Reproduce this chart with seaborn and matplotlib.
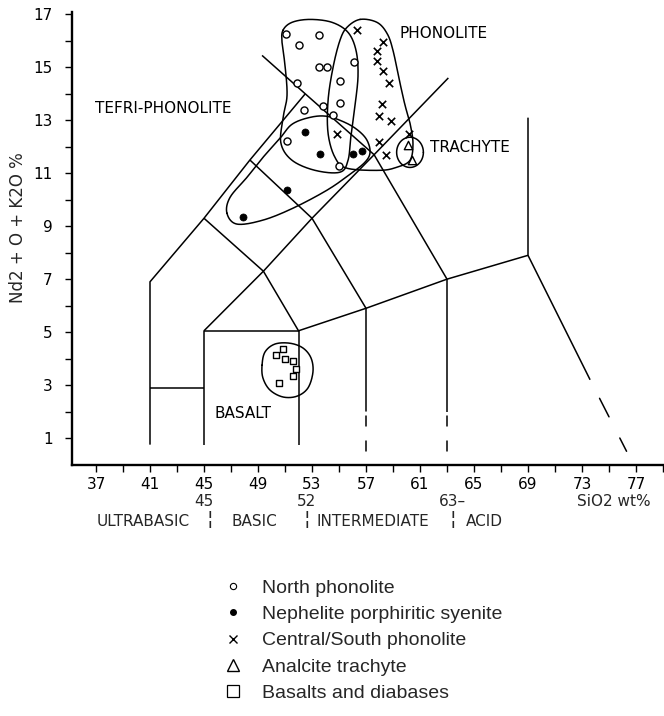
import numpy as np
import pandas as pd
import matplotlib
matplotlib.use("Agg")
import matplotlib.pyplot as plt
from matplotlib.lines import Line2D
import seaborn as sns

sns.set_theme(style="white")
plt.rcParams["font.family"] = ["DejaVu Sans"]

# ---- sample compositions (SiO2 wt%, Na2O + K2O wt%) ----
north_sio2 = [51.07, 53.54, 52.04, 53.52, 54.09, 56.09, 51.91, 55.07, 55.07, 52.43, 53.79, 54.53, 51.12, 54.97]
north_alk = [16.25, 16.23, 15.83, 15.01, 15.03, 15.19, 14.42, 14.47, 13.65, 13.38, 13.53, 13.19, 12.22, 11.28]
syen_sio2 = [52.48, 53.59, 56.01, 56.70, 51.12, 47.86]
syen_alk = [12.56, 11.74, 11.72, 11.84, 10.38, 9.33]
cs_sio2 = [56.36, 58.23, 57.81, 57.81, 58.28, 58.70, 58.19, 57.96, 58.88, 54.82, 57.96, 58.48, 60.21]
cs_alk = [16.40, 15.97, 15.62, 15.25, 14.85, 14.41, 13.60, 13.15, 12.98, 12.50, 12.17, 11.68, 12.50]
trach_sio2 = [60.14, 60.43]
trach_alk = [12.06, 11.51]
bas_sio2 = [50.88, 50.33, 51.00, 51.61, 51.79, 51.61, 50.53]
bas_alk = [4.38, 4.13, 4.00, 3.91, 3.60, 3.34, 3.06]

group_names = ["North phonolite", "Nephelite porphiritic syenite", "Central/South phonolite",
               "Analcite trachyte", "Basalts and diabases"]

# ---- hand-drawn field envelopes around each suite ----
env_north_x = [50.85, 51.52, 52.85, 54.48, 55.67, 56.26, 56.41, 56.19, 55.89, 55.67, 55.07, 53.22, 51.52, 50.70, 50.85, 51.15, 51.00, 50.78]
env_north_y = [16.40, 16.70, 16.81, 16.70, 16.32, 15.64, 14.70, 13.57, 12.43, 11.49, 11.04, 11.11, 11.49, 12.13, 13.08, 13.94, 15.08, 15.94]
env_cs_x = [56.56, 57.81, 58.56, 59.00, 59.52, 59.89, 60.26, 60.48, 60.26, 59.30, 58.04, 55.59, 54.70, 54.19, 54.19, 54.56, 55.07, 55.59]
env_cs_y = [16.81, 16.70, 16.28, 15.64, 14.40, 13.57, 12.89, 12.13, 11.49, 11.23, 11.11, 11.19, 11.60, 12.51, 13.75, 15.00, 16.02, 16.51]
env_syen_x = [46.70, 46.93, 48.19, 49.37, 50.63, 51.52, 52.85, 54.11, 55.44, 56.41, 57.07, 57.30, 56.93, 55.81, 54.11, 51.59, 49.37, 47.44]
env_syen_y = [9.49, 10.09, 10.85, 11.60, 12.32, 12.85, 13.11, 13.15, 12.92, 12.62, 12.25, 11.79, 11.42, 10.96, 10.36, 9.68, 9.23, 9.08]
env_bas_x = [49.30, 49.52, 50.26, 51.37, 52.33, 52.93, 53.07, 52.70, 51.89, 50.85, 49.89, 49.37]
env_bas_y = [3.75, 4.25, 4.55, 4.58, 4.40, 4.02, 3.49, 2.89, 2.58, 2.55, 2.81, 3.26]
trach_ring_center = (60.26, 11.79)
trach_ring_radii = (0.99, 0.57)

# ---- TAS classification boundaries ----
tas_solid = [
    [(41, 0.75), (41, 6.9), (45, 9.3), (48.4, 11.5), (52.5, 14.0)],
    [(49.3, 15.45), (52.5, 14.0), (57.6, 11.7), (63, 7.0)],
    [(41, 2.9), (45, 2.9)],
    [(45, 0.75), (45, 5.05), (52, 5.05), (52, 0.75)],
    [(45, 5.05), (49.4, 7.3), (53, 9.3), (57.6, 11.7), (63.1, 14.6)],
    [(45, 9.3), (49.4, 7.3), (52, 5.05), (57, 5.9), (63, 7.0), (69, 7.9), (69, 13.1)],
    [(48.4, 11.5), (53, 9.3), (57, 5.9), (57, 2.0)],
    [(63, 7.0), (63, 2.0)],
    [(69, 7.9), (73.6, 3.2)],
]
tas_dashes = [
    [(57, 1.85), (57, 1.45)], [(57, 0.9), (57, 0.5)],
    [(63, 1.85), (63, 1.45)], [(63, 0.9), (63, 0.5)],
    [(74.3, 2.5), (75.0, 1.8)], [(75.8, 1.0), (76.3, 0.5)],
]

field_labels = [("PHONOLITE", 59.5, 16.28), ("TEFRI-PHONOLITE", 36.95, 13.45),
                ("TRACHYTE", 61.75, 11.98), ("BASALT", 45.8, 1.94)]

x_ticks = list(range(37, 80, 2))
x_labels = [str(v) if (v - 37) % 4 == 0 else "" for v in x_ticks]
y_ticks = list(range(1, 18))
y_labels = [str(v) if v % 2 == 1 else "" for v in y_ticks]

second_row = [("45", 45.0), ("52", 52.6), ("63\u2013", 63.4)]
classes = [("ULTRABASIC", 40.5), ("BASIC", 48.7), ("INTERMEDIATE", 57.5), ("ACID", 65.8)]
class_breaks = [45.4, 52.6, 63.4]


def closed_spline(xs, ys, n=24):
    p = np.column_stack([xs, ys]).astype(float)
    m = len(p)
    t = np.linspace(0, 1, n, endpoint=False)[:, None]
    segs = []
    for i in range(m):
        p0, p1, p2, p3 = p[i - 1], p[i], p[(i + 1) % m], p[(i + 2) % m]
        segs.append(0.5 * (2 * p1 + (p2 - p0) * t + (2 * p0 - 5 * p1 + 4 * p2 - p3) * t ** 2
                           + (3 * p1 - p0 - 3 * p2 + p3) * t ** 3))
    pts = np.vstack(segs + [segs[0][:1]])
    return pts[:, 0], pts[:, 1]


W, H = 664, 716
fig = plt.figure(figsize=(W / 100, H / 100), dpi=100)
ax = fig.add_axes([72 / W, 1 - 464.5 / H, 1 - 72 / W, (464.5 - 12) / H])
ax.set_xlim(37 - 24 / 13.5, 37 + 568 / 13.5)
ax.set_ylim(0, 17.09)

lw = 1.1
for seg in tas_solid:
    xs, ys = zip(*seg)
    ax.plot(xs, ys, color="black", lw=lw, solid_capstyle="butt")
for seg in tas_dashes:
    xs, ys = zip(*seg)
    ax.plot(xs, ys, color="black", lw=lw)

for ex, ey in [(env_north_x, env_north_y), (env_cs_x, env_cs_y),
               (env_syen_x, env_syen_y), (env_bas_x, env_bas_y)]:
    sx, sy = closed_spline(ex, ey)
    ax.plot(sx, sy, color="black", lw=1.1)
th = np.linspace(0, 2 * np.pi, 120)
ax.plot(trach_ring_center[0] + trach_ring_radii[0] * np.cos(th),
        trach_ring_center[1] + trach_ring_radii[1] * np.sin(th), color="black", lw=1.1)

df = pd.concat([
    pd.DataFrame({"SiO2": north_sio2, "alk": north_alk, "suite": group_names[0]}),
    pd.DataFrame({"SiO2": syen_sio2, "alk": syen_alk, "suite": group_names[1]}),
    pd.DataFrame({"SiO2": cs_sio2, "alk": cs_alk, "suite": group_names[2]}),
    pd.DataFrame({"SiO2": trach_sio2, "alk": trach_alk, "suite": group_names[3]}),
    pd.DataFrame({"SiO2": bas_sio2, "alk": bas_alk, "suite": group_names[4]}),
], ignore_index=True)

styles = {
    group_names[0]: dict(marker="o", s=26, facecolor="white", edgecolor="black", linewidth=1.0),
    group_names[1]: dict(marker="o", s=26, facecolor="black", edgecolor="black", linewidth=0.5),
    group_names[2]: dict(marker="x", s=28, color="black", linewidth=1.2),
    group_names[3]: dict(marker="^", s=36, facecolor="white", edgecolor="black", linewidth=1.0),
    group_names[4]: dict(marker="s", s=24, facecolor="white", edgecolor="black", linewidth=1.0),
}
for name in group_names:
    sub = df[df["suite"] == name]
    sns.scatterplot(data=sub, x="SiO2", y="alk", ax=ax, legend=False, zorder=3, **styles[name])

for txt, x, y in field_labels:
    ax.text(x, y, txt, fontsize=11, ha="left", va="center", color="black")

sns.despine(ax=ax)
for side in ("left", "bottom"):
    ax.spines[side].set_linewidth(1.7)
    ax.spines[side].set_color("black")
ax.set_xticks(x_ticks)
ax.set_xticklabels(x_labels)
ax.set_yticks(y_ticks)
ax.set_yticklabels(y_labels)
ax.tick_params(axis="both", direction="out", length=5, width=1.0, colors="black",
               labelsize=11, bottom=True, left=True)
ax.tick_params(axis="x", pad=4)
ax.tick_params(axis="y", pad=9)
ax.set_xlabel("")
ax.set_ylabel("")

to_fig = lambda xd: ax.transData.transform((xd, 0))[0] / W
for txt, xd in second_row:
    fig.text(to_fig(xd), 1 - 502 / H, txt, fontsize=11, ha="center", va="center")
fig.text(577 / W, 1 - 502 / H, "SiO2 wt%", fontsize=11, ha="left", va="center")
for txt, xd in classes:
    fig.text(to_fig(xd), 1 - 521 / H, txt, fontsize=11, ha="center", va="center")
for xd in class_breaks:
    fig.text(to_fig(xd), 1 - 520 / H, "\u00a6", fontsize=14, ha="center", va="center")

fig.text(18 / W, 1 - 228 / H, "Nd2 + O + K2O %", rotation=90, fontsize=12,
         ha="center", va="center")

handles = [
    Line2D([], [], ls="none", marker="o", ms=4.5, mfc="white", mec="black", mew=0.8),
    Line2D([], [], ls="none", marker="o", ms=4, mfc="black", mec="black"),
    Line2D([], [], ls="none", marker="x", ms=6, mec="black", mew=1.0),
    Line2D([], [], ls="none", marker="^", ms=9, mfc="white", mec="black", mew=1.0),
    Line2D([], [], ls="none", marker="s", ms=9, mfc="white", mec="black", mew=0.9),
]
fig.legend(handles, group_names, loc="upper left", bbox_to_anchor=(221 / W, 1 - 579 / H),
           frameon=False, prop={"family": "Liberation Sans", "size": 14},
           handlelength=1.2, handletextpad=0.9, labelspacing=0.45, borderpad=0,
           borderaxespad=0)

fig.savefig("out.png", dpi=100)
